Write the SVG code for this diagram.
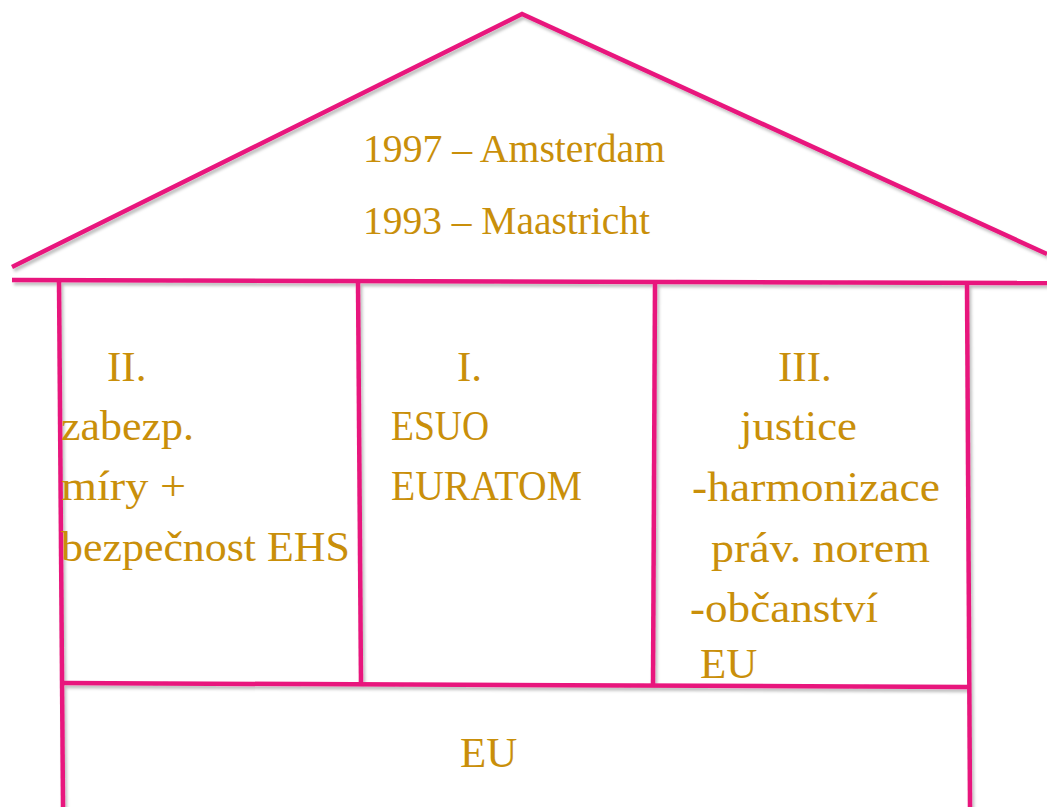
<svg xmlns="http://www.w3.org/2000/svg" width="1047" height="807" viewBox="0 0 1047 807">
<defs>
<filter id="sh" x="-5%" y="-5%" width="110%" height="110%">
<feDropShadow dx="2" dy="3" stdDeviation="1.5" flood-color="#000" flood-opacity="0.25"/>
</filter>
</defs>
<style>
.ln{stroke:#E8177D;stroke-width:4.5;fill:none;stroke-linecap:butt}
.t{font-family:"Liberation Serif","Times New Roman",serif;fill:#C98F0A;font-size:43px}
.r{font-size:39px}
</style>
<rect width="1047" height="807" fill="#fff"/>
<g id="connectors" filter="url(#sh)">
<polyline class="ln" points="12,267 522,14 1047,254"/>
<line class="ln" x1="12" y1="280" x2="1047" y2="283"/>
<line class="ln" x1="59" y1="280" x2="63" y2="807"/>
<line class="ln" x1="358" y1="281" x2="361" y2="685"/>
<line class="ln" x1="655" y1="282" x2="653" y2="686"/>
<line class="ln" x1="967" y1="283" x2="970" y2="807"/>
<line class="ln" x1="61" y1="683" x2="968" y2="687"/>
</g>
<g id="roof">
<text class="t r" x="363" y="162" textLength="302" lengthAdjust="spacingAndGlyphs">1997 – Amsterdam</text>
<text class="t r" x="363" y="234" textLength="287" lengthAdjust="spacingAndGlyphs">1993 – Maastricht</text>
</g>
<g id="pillar2">
<text class="t" x="107" y="381">II.</text>
<text class="t" x="61" y="440" textLength="133" lengthAdjust="spacingAndGlyphs">zabezp.</text>
<text class="t" x="61" y="500" textLength="125" lengthAdjust="spacingAndGlyphs">míry +</text>
<text class="t" x="61" y="561" textLength="289" lengthAdjust="spacingAndGlyphs">bezpečnost EHS</text>
</g>
<g id="pillar1">
<text class="t" x="457" y="381">I.</text>
<text class="t" x="391" y="440" textLength="98" lengthAdjust="spacingAndGlyphs">ESUO</text>
<text class="t" x="391" y="500" textLength="191" lengthAdjust="spacingAndGlyphs">EURATOM</text>
</g>
<g id="pillar3">
<text class="t" x="778" y="381">III.</text>
<text class="t" x="740" y="440" textLength="117" lengthAdjust="spacingAndGlyphs">justice</text>
<text class="t" x="692" y="501" textLength="248" lengthAdjust="spacingAndGlyphs">-harmonizace</text>
<text class="t" x="711" y="562" textLength="219" lengthAdjust="spacingAndGlyphs">práv. norem</text>
<text class="t" x="690" y="622" textLength="188" lengthAdjust="spacingAndGlyphs">-občanství</text>
<text class="t" x="700" y="678">EU</text>
</g>
<g id="base">
<text class="t" x="460" y="767">EU</text>
</g>
</svg>
